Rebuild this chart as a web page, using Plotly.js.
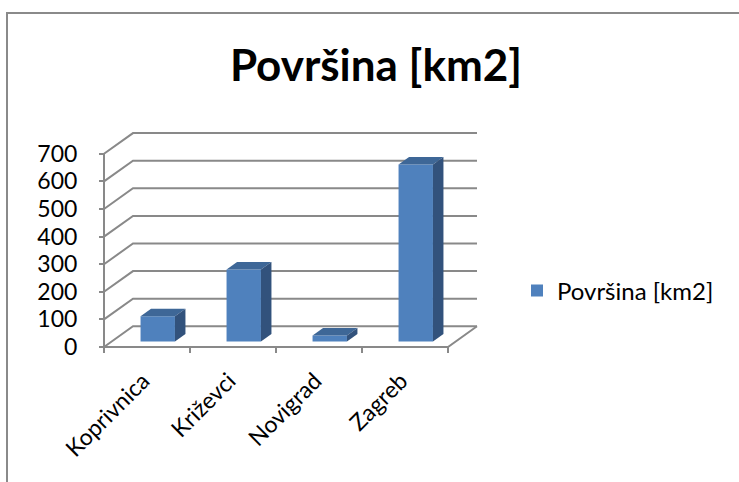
<!DOCTYPE html>
<html>
<head>
<meta charset="utf-8">
<script src="https://cdn.plot.ly/plotly-3.0.1.min.js"></script>
<style>
  html, body { margin: 0; padding: 0; background: #ffffff; }
  #wrap { position: relative; width: 739px; height: 482px; overflow: hidden; }
  #chart { position: absolute; left: 0; top: 0; width: 739px; height: 482px; }
  #frame { position: absolute; left: 6px; top: 12px; width: 900px; height: 700px;
           border-left: 2px solid #8a8a8a; border-top: 2px solid #8a8a8a; pointer-events: none; }
</style>
</head>
<body>
<div id="wrap">
  <div id="chart"></div>
  <div id="frame"></div>
</div>
<script>
// ---- data ----
const categories = ['Koprivnica', 'Križevci', 'Novigrad', 'Zagreb'];
const values = [91, 261, 22, 641];
const yTicks = [0, 100, 200, 300, 400, 500, 600, 700];
const seriesName = 'Površina [km2]';
const titleText = 'Površina [km2]';

// ---- geometry / style ----
const FONT = 'Lato, Carlito, Calibri, "Open Sans", sans-serif';
const GRID = '#898989';
const FRONT = '#4F81BD', TOP = '#3E6797', SIDE = '#32527C';
const PX_X = 86;       // px per category
const PX_Y = 0.276;    // px per value unit
const L = 101, R = 258, T = 130, B = 127;
const W = 739, H = 482;
const plotW = W - L - R, plotH = H - T - B;
const padL = 3, padB = 8;
const DX = 29 / PX_X;        // floor depth in x units
const DY = 20.7 / PX_Y;      // floor depth in value units
const BAR_SHIFT = 0.125, BAR_W = 0.40, BASE = 20;
const SDX = 10.5 / PX_X, SDY = 7.5 / PX_Y;

const n = categories.length;
const xMin = -0.5 - padL / PX_X;
const xMax = xMin + plotW / PX_X;
const yMin = -padB / PX_Y;
const yMax = yMin + plotH / PX_Y;
const yTop = yTicks[yTicks.length - 1];

// gridlines (shapes, below traces)
const shapes = [];
const line = { color: GRID, width: 2 };
yTicks.forEach(t => {
  shapes.push({ type: 'path', xref: 'x', yref: 'y', layer: 'below', line,
    path: `M${-0.5},${t} L${-0.5 + DX},${t + DY} L${n - 0.5 + DX},${t + DY}` });
});
shapes.push({ type: 'path', xref: 'x', yref: 'y', layer: 'below', line,
  path: `M${-0.5},0 L${n - 0.5},0 L${n - 0.5 + DX},${DY}` });
shapes.push({ type: 'path', xref: 'x', yref: 'y', layer: 'below', line,
  path: `M${-0.5},0 L${-0.5},${yTop}` });
for (let k = 0; k <= n; k++) {
  shapes.push({ type: 'path', xref: 'x', yref: 'y', layer: 'below', line,
    path: `M${k - 0.5},0 L${k - 0.5},${-6 / PX_Y}` });
}

const idx = categories.map((c, i) => i);
const traces = [];
traces.push({
  type: 'bar', name: seriesName,
  x: idx.map(i => i + BAR_SHIFT), y: values, base: idx.map(() => BASE),
  width: BAR_W, marker: { color: FRONT, line: { width: 0 } },
  showlegend: true, hoverinfo: 'skip'
});
values.forEach((v, i) => {
  const x0 = i + BAR_SHIFT - BAR_W / 2, x1 = i + BAR_SHIFT + BAR_W / 2;
  traces.push({
    type: 'scatter', mode: 'lines', fill: 'toself', fillcolor: TOP,
    line: { width: 0, color: TOP }, showlegend: false, hoverinfo: 'skip',
    x: [x0, x1, x1 + SDX, x0 + SDX, x0],
    y: [BASE + v, BASE + v, BASE + v + SDY, BASE + v + SDY, BASE + v]
  });
  traces.push({
    type: 'scatter', mode: 'lines', fill: 'toself', fillcolor: SIDE,
    line: { width: 0, color: SIDE }, showlegend: false, hoverinfo: 'skip',
    x: [x1, x1, x1 + SDX, x1 + SDX, x1],
    y: [BASE, BASE + v, BASE + v + SDY, BASE + SDY, BASE]
  });
});

const layout = {
  width: W, height: H,
  margin: { l: L, r: R, t: T, b: B, pad: 0 },
  paper_bgcolor: 'rgba(0,0,0,0)', plot_bgcolor: 'rgba(0,0,0,0)',
  font: { family: FONT, color: '#000000', size: 22 },
  title: { text: '<b>' + titleText + '</b>', font: { family: FONT, size: 44, color: '#000000' },
           xref: 'container', yref: 'container', x: 376 / W, xanchor: 'center',
           y: 1 - 66 / H, yanchor: 'middle' },
  xaxis: { range: [xMin, xMax], anchor: 'free', position: padB / plotH,
           tickvals: idx, ticktext: categories, ticks: '', tickangle: -45,
           ticklabelstandoff: 15, ticklabelshift: -4,
           showgrid: false, zeroline: false, showline: false,
           tickfont: { family: FONT, size: 23, color: '#000000' } },
  yaxis: { range: [yMin, yMax], anchor: 'free', position: padL / plotW,
           tickvals: yTicks, ticktext: yTicks.map(String), ticks: 'outside', ticklen: 5,
           tickwidth: 2, tickcolor: GRID, showgrid: false, zeroline: false, showline: false,
           ticklabelstandoff: 17,
           tickfont: { family: FONT, size: 23, color: '#000000' } },
  showlegend: true,
  legend: { x: (517 - L) / plotW, xanchor: 'left', y: (H - B - 291) / plotH, yanchor: 'middle',
            font: { family: FONT, size: 24, color: '#000000' }, bgcolor: 'rgba(0,0,0,0)' },
  shapes: shapes
};

Plotly.newPlot('chart', traces, layout, { displayModeBar: false, staticPlot: true });
</script>
</body>
</html>
